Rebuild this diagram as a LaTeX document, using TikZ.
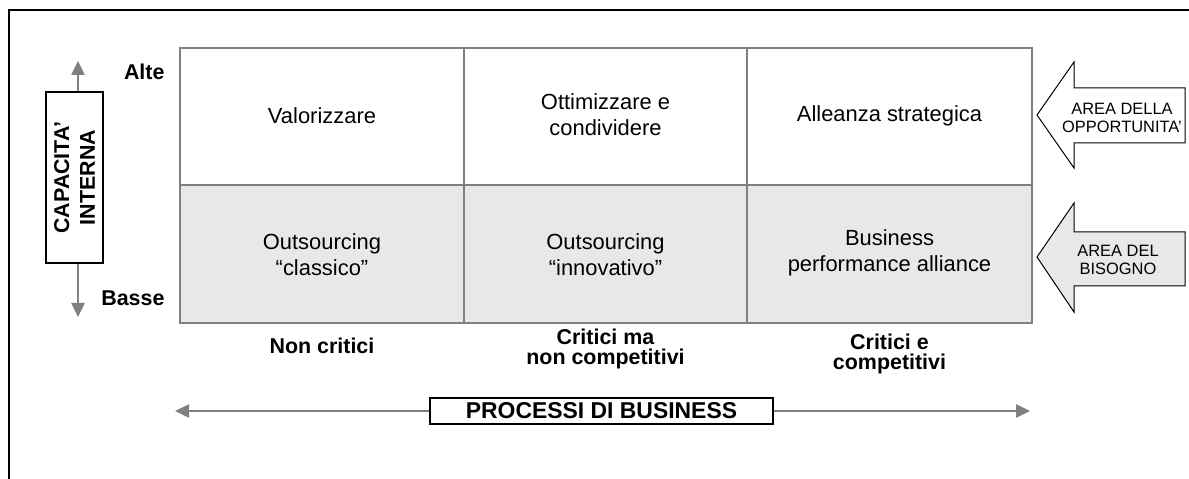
\documentclass[tikz,border=0pt]{standalone}
\usepackage{fontspec}
\setmainfont{Liberation Sans}
\usetikzlibrary{arrows.meta}
\definecolor{gridgray}{HTML}{808080}
\definecolor{cellgray}{HTML}{E8E8E8}
\tikzset{
  celltext/.style={align=center, font=\fontsize{22}{26}\selectfont},
  axislabel/.style={align=center, font=\bfseries\fontsize{21.5}{20}\selectfont},
  arrowtext/.style={align=center, font=\fontsize{16.5}{18}\selectfont},
  garrow/.style={draw=gridgray, line width=2.5bp, -{Triangle[length=14bp,width=13bp]}},
  bigarrow/.style={draw=black, line width=1bp, line join=miter},
  framebox/.style={draw=black, line width=1.5bp}
}
\begin{document}
\begin{tikzpicture}[x=1bp,y=-1bp]
\useasboundingbox (0,0) rectangle (1189,479);
% outer frame
\draw[line width=2bp] (9,479) -- (9,10) -- (1189,10);
% grid
\fill[cellgray] (180,185) rectangle (1032,323);
\draw[gridgray, line width=2bp] (180,48) rectangle (1032,323);
\draw[gridgray, line width=2bp] (180,185) -- (1032,185);
\draw[gridgray, line width=2bp] (464,48) -- (464,323);
\draw[gridgray, line width=2bp] (747,48) -- (747,323);
% cell texts
\node[celltext] (c11) at (322,116) {Valorizzare};
\node[celltext] (c12) at (605.5,115) {Ottimizzare e\\condividere};
\node[celltext] (c13) at (889.5,116) {Alleanza strategica};
\node[celltext] (c21) at (322,255) {Outsourcing\\“classico”};
\node[celltext] (c22) at (605.5,255) {Outsourcing\\“innovativo”};
\node[celltext] (c23) at (889.5,253) {Business\\performance alliance};
% column labels
\node[axislabel] (l1) at (322,346) {Non critici};
\node[axislabel] (l2) at (605.5,349) {Critici ma\\non competitivi};
\node[axislabel] (l3) at (889.5,354) {Critici e\\competitivi};
% vertical axis
\node[framebox, minimum width=57bp, minimum height=171bp, inner sep=0pt] (capbox) at (74.5,177.5) {};
\node[rotate=90, align=center, font=\bfseries\fontsize{21.5}{26}\selectfont] (captext) at (capbox.center) {CAPACITA’\\INTERNA};
\coordinate (vtop) at (78,61);
\coordinate (vbot) at (78,317);
\draw[garrow] (capbox.north -| vtop) -- (vtop);
\draw[garrow] (capbox.south -| vbot) -- (vbot);
\node[axislabel, anchor=east] (alte) at (168,72) {Alte};
\node[axislabel, anchor=east] (basse) at (168,298) {Basse};
% horizontal axis
\node[framebox, fill=white, minimum width=343bp, minimum height=26bp, inner sep=0pt, font=\bfseries\fontsize{23}{24}\selectfont] (pb) at (601.5,411) {PROCESSI DI BUSINESS};
\coordinate (hl) at (175,411);
\coordinate (hr) at (1030,411);
\draw[garrow] (pb.west) -- (hl);
\draw[garrow] (pb.east) -- (hr);
% right block arrows
\draw[bigarrow, fill=white] (1185,88) -- (1074,88) -- (1074,62) -- (1037,115) -- (1074,168) -- (1074,143) -- (1185,143) -- cycle;
\node[arrowtext] (opp) at (1122,118) {AREA DELLA\\OPPORTUNITA’};
\draw[bigarrow, fill=cellgray] (1185,232) -- (1074,232) -- (1074,203) -- (1037,257) -- (1074,312) -- (1074,286) -- (1185,286) -- cycle;
\node[arrowtext] (bis) at (1118,260) {AREA DEL\\BISOGNO};
\end{tikzpicture}
\end{document}
